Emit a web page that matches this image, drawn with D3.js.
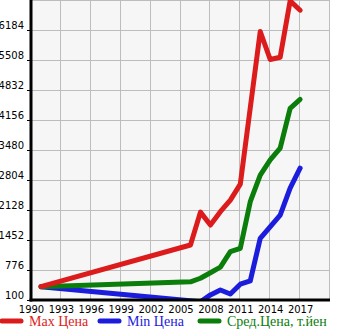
<!DOCTYPE html>
<html>
<head>
<meta charset="utf-8">
<script src="https://cdn.jsdelivr.net/npm/d3@7"></script>
<style>
  html, body { margin: 0; padding: 0; background: #fff; }
  svg { display: block; }
</style>
</head>
<body>
<svg id="chart" width="345" height="335"></svg>
<script>
// Price history (thousand yen) by model year
const maxYears = [1991, 2006, 2007, 2008, 2009, 2010, 2011, 2013, 2014, 2015, 2016, 2017];
const maxPrice = [400, 1340, 2080, 1790, 2090, 2350, 2710, 6150, 5520, 5570, 6840, 6630];

const minYears = [1991, 2007, 2008, 2009, 2010, 2011, 2012, 2013, 2015, 2016, 2017];
const minPrice = [400, 60, 215, 325, 235, 455, 530, 1490, 2015, 2620, 3070];

const avgYears = [1991, 2006, 2007, 2008, 2009, 2010, 2011, 2012, 2013, 2014, 2015, 2016, 2017];
const avgPrice = [400, 510, 590, 715, 840, 1190, 1265, 2315, 2915, 3255, 3520, 4420, 4620];

const xTicks = [1990, 1993, 1996, 1999, 2002, 2005, 2008, 2011, 2014, 2017];
const yTicks = [100, 776, 1452, 2128, 2804, 3480, 4156, 4832, 5508, 6184];

const seriesNames = ["Max Цена", "Min Цена", "Сред.Цена, т.йен"];
const seriesColors = ["#dc1c1c", "#1c1cdc", "#0a7d0a"];

const svg = d3.select("#chart");
const plotLeft = 31, plotRight = 330, plotTop = 0, plotBottom = 300;

const x = d3.scaleLinear().domain([1990, 2020]).range([plotLeft, plotRight]);
const y = d3.scaleLinear().domain([100, 6860]).range([plotBottom, plotTop]);

// plot background
svg.append("rect")
  .attr("x", plotLeft).attr("y", plotTop)
  .attr("width", plotRight - plotLeft).attr("height", plotBottom - plotTop)
  .attr("fill", "#f6f6f6");

// grid
const grid = svg.append("g").attr("stroke", "#bdbdbd").attr("stroke-width", 1);
grid.selectAll("line.v").data(xTicks.concat([2020])).join("line")
  .attr("class", "v")
  .attr("x1", d => Math.round(x(d)) - 0.5).attr("x2", d => Math.round(x(d)) - 0.5)
  .attr("y1", plotTop).attr("y2", plotBottom);
grid.selectAll("line.h").data(yTicks.concat([6860])).join("line")
  .attr("class", "h")
  .attr("x1", plotLeft).attr("x2", plotRight)
  .attr("y1", d => Math.round(y(d)) + 0.5).attr("y2", d => Math.round(y(d)) + 0.5);

// series lines, clipped to the plot area
svg.append("clipPath").attr("id", "plotclip")
  .append("rect").attr("x", plotLeft).attr("y", plotTop - 3)
  .attr("width", plotRight - plotLeft).attr("height", plotBottom - plotTop + 3);
const plot = svg.append("g").attr("clip-path", "url(#plotclip)");

const seriesData = [
  maxYears.map((yr, i) => [yr, maxPrice[i]]),
  minYears.map((yr, i) => [yr, minPrice[i]]),
  avgYears.map((yr, i) => [yr, avgPrice[i]])
];
const line = d3.line().x(d => x(d[0])).y(d => y(d[1]));

// draw min first, then avg, then max on top
[1, 2, 0].forEach(i => {
  plot.append("path")
    .datum(seriesData[i])
    .attr("d", line)
    .attr("fill", "none")
    .attr("stroke", seriesColors[i])
    .attr("stroke-width", 5)
    .attr("stroke-linejoin", "round")
    .attr("stroke-linecap", "round");
});

// axes
const yAxis = d3.axisLeft(y).tickValues(yTicks).tickSize(3).tickFormat(d3.format("d"));
const gy = svg.append("g").attr("transform", `translate(${plotLeft - 1},0)`).call(yAxis);
gy.select(".domain").remove();
gy.selectAll(".tick line").attr("stroke", "#000");
gy.selectAll(".tick text")
  .attr("x", -6).attr("dy", "-0.15em")
  .attr("font-family", "DejaVu Sans, sans-serif")
  .attr("font-size", 10).attr("fill", "#000");

const xAxis = d3.axisBottom(x).tickValues(xTicks).tickSize(0).tickFormat(d3.format("d"));
const gx = svg.append("g").attr("transform", `translate(0,${plotBottom})`).call(xAxis);
gx.select(".domain").remove();
gx.selectAll(".tick text")
  .attr("y", 6).attr("dy", "0.71em")
  .attr("font-family", "DejaVu Sans, sans-serif")
  .attr("font-size", 10).attr("fill", "#000");

// axis lines
svg.append("line").attr("x1", plotLeft).attr("x2", plotLeft).attr("y1", plotTop).attr("y2", plotBottom + 1.5)
  .attr("stroke", "#000").attr("stroke-width", 3);
svg.append("line").attr("x1", plotLeft - 1.5).attr("x2", plotRight).attr("y1", plotBottom).attr("y2", plotBottom)
  .attr("stroke", "#000").attr("stroke-width", 3);

// legend
const legendX = [2, 100, 200];
const legend = svg.append("g").attr("transform", "translate(0,321)");
seriesNames.forEach((name, i) => {
  const g = legend.append("g").attr("transform", `translate(${legendX[i]},0)`);
  g.append("line").attr("x1", 0).attr("x2", 19).attr("y1", 0).attr("y2", 0)
    .attr("stroke", seriesColors[i]).attr("stroke-width", 5).attr("stroke-linecap", "round");
  g.append("text").attr("x", 27).attr("y", 5)
    .attr("font-family", "Liberation Serif, serif")
    .attr("font-size", 14)
    .attr("fill", seriesColors[i])
    .text(name);
});
</script>
</body>
</html>
